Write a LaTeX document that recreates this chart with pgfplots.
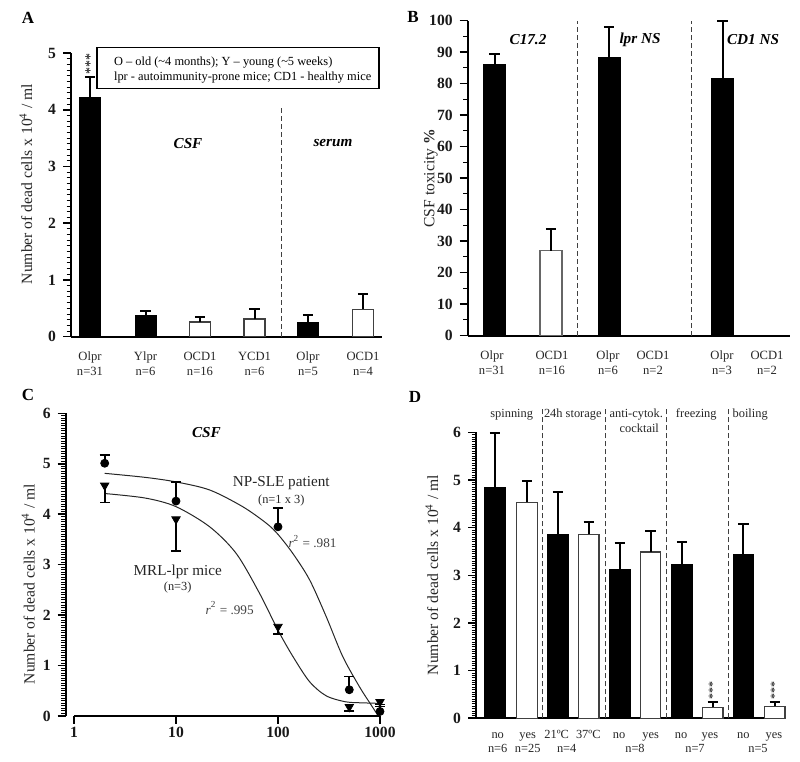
\documentclass[border=0pt]{standalone}
\usepackage{pgfplots}
\pgfplotsset{compat=1.18}
\usepackage{fontspec}
\setmainfont{Liberation Serif}
\tikzset{
  ann/.style={font=\bfseries\itshape\fontsize{7.6}{9}\selectfont},
  dsh/.style={dash pattern=on 2.5pt off 1.5pt, line width=0.5pt, black!75},
}
\pgfplotsset{
  panel/.style={
    scale only axis, clip=false,
    axis x line=bottom, axis y line=left,
    axis line style={-, line width=0.9pt, black},
    tick align=outside,
    major tick length=4pt, minor tick length=2.2pt,
    every major tick/.style={line width=0.8pt, black},
    every minor tick/.style={line width=0.5pt, black},
    /pgf/number format/assume math mode=true,
    yticklabel style={font=\bfseries\fontsize{7.8}{9}\selectfont, text=black!90},
    xticklabel style={font=\fontsize{6.3}{7.6}\selectfont, align=center, text=black!85},
    ylabel style={font=\fontsize{7.8}{9}\selectfont, text=black!85, anchor=center},
  },
  barpanel/.style={panel, ybar, bar shift=0pt, xtick style={draw=none}},
  errb/.style={error bars/.cd, y dir=plus, y explicit,
     error bar style={line width=1pt, black},
     error mark options={rotate=90, line width=1pt, black, mark size=2.6pt}},
}
\begin{document}
\begin{tikzpicture}
\path[use as bounding box] (0,0) rectangle (400pt,381pt);
\node[font=\bfseries\fontsize{8.5}{9}\selectfont] at (14pt,372pt) {A};
\node[font=\bfseries\fontsize{8.5}{9}\selectfont] at (206.5pt,372.5pt) {B};
\node[font=\bfseries\fontsize{8.5}{9}\selectfont] at (14pt,183.5pt) {C};
\node[font=\bfseries\fontsize{8.5}{9}\selectfont] at (207.5pt,182.5pt) {D};

% ---------------- Panel A ----------------
\begin{axis}[barpanel, at={(35.5pt,212.65pt)}, anchor=south west,
  width=155.5pt, height=141.85pt,
  xmin=71, xmax=382, ymin=0, ymax=5,
  ytick={0,1,2,3,4,5}, minor y tick num=9,
  bar width=10.5pt,
  xtick={90,145.5,200,254.5,308,363},
  xticklabels={Olpr\\n=31, Ylpr\\n=6, OCD1\\n=16, YCD1\\n=6, Olpr\\n=5, OCD1\\n=4},
  ylabel={Number of dead cells x 10\textsuperscript{4} / ml},
  ylabel style={at={(axis description cs:-0.145,0.538)}},
]
\addplot[fill=black, draw=black, errb] coordinates {
  (90,4.21) +- (0,0.36)
  (145.5,0.38) +- (0,0.08)
  (308,0.25) +- (0,0.13)
};
\addplot[fill=white, draw=black!75, line width=0.7pt, errb] coordinates {
  (200,0.26) +- (0,0.09)
  (254.5,0.31) +- (0,0.18)
  (363,0.48) +- (0,0.27)
};
\draw[dsh] (axis cs:281,0) -- (axis cs:281,4.05);
\draw[line width=0.6pt] (axis cs:97,5.09) rectangle (axis cs:379,4.37);
\node[anchor=west, font=\fontsize{6.2}{7}\selectfont] at (axis cs:107,4.84) {O -- old (\textasciitilde 4 months); Y -- young (\textasciitilde 5 weeks)};
\node[anchor=west, font=\fontsize{6.2}{7}\selectfont] at (axis cs:107,4.57) {lpr - autoimmunity-prone mice; CD1 - healthy mice};
\node[ann] at (axis cs:188,3.41) {CSF};
\node[ann] at (axis cs:333,3.41) {serum};
\node[rotate=90, font=\fontsize{7}{7}\selectfont] at (axis cs:90,4.80) {***};
\end{axis}

% ---------------- Panel B ----------------
\begin{axis}[barpanel, at={(233.85pt,213.15pt)}, anchor=south west,
  width=161.15pt, height=157.5pt,
  xmin=467.7, xmax=790, ymin=0, ymax=100,
  ytick={0,10,...,100}, minor y tick num=1,
  bar width=11pt,
  xtick={492,552,608,653,722,767},
  xticklabels={Olpr\\n=31, OCD1\\n=16, Olpr\\n=6, OCD1\\n=2, Olpr\\n=3, OCD1\\n=2},
  ylabel={CSF toxicity \textbf{\%}},
  ylabel style={at={(axis description cs:-0.1145,0.5)}},
]
\addplot[fill=black, draw=black, errb] coordinates {
  (494.5,86) +- (0,3.3)
  (609,88.3) +- (0,9.6)
  (722.5,81.8) +- (0,18.2)
};
\addplot[fill=white, draw=black!60, line width=0.8pt, errb] coordinates {
  (551,27) +- (0,7)
};
\draw[dsh] (axis cs:577.3,0) -- (axis cs:577.3,100);
\draw[dsh] (axis cs:691.7,0) -- (axis cs:691.7,100);
\node[ann] at (axis cs:528,93.9) {C17.2};
\node[ann] at (axis cs:640,93.9) {lpr NS};
\node[ann] at (axis cs:753,93.9) {CD1 NS};
\end{axis}

% ---------------- Panel C ----------------
\begin{axis}[panel, at={(32.85pt,23pt)}, anchor=south west,
  width=157.15pt, height=151.35pt,
  xmode=log, xmin=0.829, xmax=1000, ymin=0, ymax=6,
  ytick={0,1,2,3,4,5,6}, minor y tick num=19,
  xtick={1,10,100,1000}, xticklabels={1,10,100,1000}, xminorticks=false,
  xticklabel style={font=\bfseries\fontsize{7.8}{9}\selectfont, text=black!90, yshift=2pt},
  x axis line style={draw=none},
  ylabel={Number of dead cells x 10\textsuperscript{4} / ml},
  ylabel style={at={(axis description cs:-0.119,0.436)}},
]
\draw[line width=0.9pt] (axis cs:1,0) -- (axis cs:1000,0);
% fitted curves (traced)
\addplot[black!85, line width=0.5pt, smooth, tension=0.5] coordinates {
  (2,4.81) (5,4.73) (10,4.64) (21.4,4.48) (45,4.15) (77,3.82) (100,3.60)
  (140,3.22) (204,2.70) (297,1.97) (431,1.18) (629,0.58) (800,0.25) (950,0.02)
};
\addplot[black!85, line width=0.5pt, smooth, tension=0.5] coordinates {
  (2,4.41) (5,4.32) (10,4.15) (21.4,3.75) (39,3.22) (66,2.43) (100,1.70)
  (140,1.18) (204,0.68) (297,0.40) (465,0.28) (700,0.26) (1000,0.25)
};
% NP-SLE patient (circles)
\addplot[only marks, mark=*, mark size=2pt, black,
  error bars/.cd, y dir=plus, y explicit,
  error bar style={line width=0.8pt, black},
  error mark options={rotate=90, line width=0.8pt, black, mark size=2.5pt}] coordinates {
  (2,5.01) +- (0,0.16)
  (10,4.26) +- (0,0.38)
  (100,3.75) +- (0,0.37)
  (500,0.52) +- (0,0.26)
  (1000,0.09) +- (0,0.10)
};
% MRL-lpr mice (down triangles)
\addplot[only marks, mark=triangle*, mark size=2.4pt, mark options={rotate=180}, black,
  error bars/.cd, y dir=minus, y explicit,
  error bar style={line width=0.8pt, black},
  error mark options={rotate=90, line width=0.8pt, black, mark size=2.5pt}] coordinates {
  (2,4.57) +- (0,0.34)
  (10,3.90) +- (0,0.63)
  (100,1.77) +- (0,0.15)
  (500,0.18) +- (0,0.08)
  (1000,0.28) +- (0,0.05)
};
\node[ann] at (axis cs:19.9,5.61) {CSF};
\node[font=\fontsize{7.6}{9}\selectfont, text=black!85] at (axis cs:107.7,4.61) {NP-SLE patient};
\node[font=\fontsize{6.2}{7}\selectfont, text=black!85] at (axis cs:107.7,4.28) {(n=1 x 3)};
\node[font=\fontsize{6.6}{8}\selectfont, text=black!75] at (axis cs:218,3.45) {\textit{r}\textsuperscript{2} = .981};
\node[font=\fontsize{7.6}{9}\selectfont, text=black!85] at (axis cs:10.4,2.86) {MRL-lpr mice};
\node[font=\fontsize{6.2}{7}\selectfont, text=black!85] at (axis cs:10.4,2.54) {(n=3)};
\node[font=\fontsize{6.6}{8}\selectfont, text=black!75] at (axis cs:33.6,2.14) {\textit{r}\textsuperscript{2} = .995};
\end{axis}

% ---------------- Panel D ----------------
\begin{axis}[barpanel, at={(238pt,21.85pt)}, anchor=south west,
  width=154.5pt, height=143pt,
  xmin=476, xmax=785, ymin=0, ymax=6,
  ytick={0,1,2,3,4,5,6}, minor y tick num=19,
  bar width=10.25pt, xtick=\empty,
  ylabel={Number of dead cells x 10\textsuperscript{4} / ml},
  ylabel style={at={(axis description cs:-0.143,0.501)}},
]
\addplot[fill=black, draw=black, errb] coordinates {
  (495,4.84) +- (0,1.14)
  (558,3.86) +- (0,0.88)
  (619.7,3.12) +- (0,0.56)
  (682,3.23) +- (0,0.47)
  (743.3,3.43) +- (0,0.65)
};
\addplot[fill=white, draw=black!75, line width=0.7pt, errb] coordinates {
  (527,4.53) +- (0,0.44)
  (588.7,3.86) +- (0,0.26)
  (650.5,3.49) +- (0,0.44)
  (712.7,0.23) +- (0,0.11)
  (774.7,0.25) +- (0,0.10)
};
\draw[dsh] (axis cs:542.7,0) -- (axis cs:542.7,6.5);
\draw[dsh] (axis cs:605,0) -- (axis cs:605,6.5);
\draw[dsh] (axis cs:666.7,0) -- (axis cs:666.7,6.5);
\draw[dsh] (axis cs:728.3,0) -- (axis cs:728.3,6.5);
\begin{scope}[every node/.style={font=\fontsize{6.2}{7}\selectfont, anchor=base, text=black!85}]
\node at (axis cs:511.7,6.31) {spinning};
\node at (axis cs:572.8,6.31) {24h storage};
\node at (axis cs:636.3,6.31) {anti-cytok.};
\node at (axis cs:639.3,6.0) {cocktail};
\node at (axis cs:696.3,6.31) {freezing};
\node at (axis cs:750.2,6.31) {boiling};
\node at ([yshift=-10pt]axis cs:497.7,0) {no};
\node at ([yshift=-10pt]axis cs:527.7,0) {yes};
\node at ([yshift=-10pt]axis cs:556.7,0) {21ºC};
\node at ([yshift=-10pt]axis cs:588.3,0) {37ºC};
\node at ([yshift=-10pt]axis cs:619,0) {no};
\node at ([yshift=-10pt]axis cs:650.7,0) {yes};
\node at ([yshift=-10pt]axis cs:681,0) {no};
\node at ([yshift=-10pt]axis cs:710,0) {yes};
\node at ([yshift=-10pt]axis cs:743.3,0) {no};
\node at ([yshift=-10pt]axis cs:774,0) {yes};
\node at ([yshift=-17.2pt]axis cs:497.7,0) {n=6};
\node at ([yshift=-17.2pt]axis cs:527.7,0) {n=25};
\node at ([yshift=-17.2pt]axis cs:566.7,0) {n=4};
\node at ([yshift=-17.2pt]axis cs:635,0) {n=8};
\node at ([yshift=-17.2pt]axis cs:695,0) {n=7};
\node at ([yshift=-17.2pt]axis cs:758,0) {n=5};
\end{scope}
\node[rotate=90, font=\fontsize{6}{6}\selectfont] at (axis cs:712.7,0.59) {***};
\node[rotate=90, font=\fontsize{6}{6}\selectfont] at (axis cs:774.7,0.59) {***};
\end{axis}
\end{tikzpicture}
\end{document}
